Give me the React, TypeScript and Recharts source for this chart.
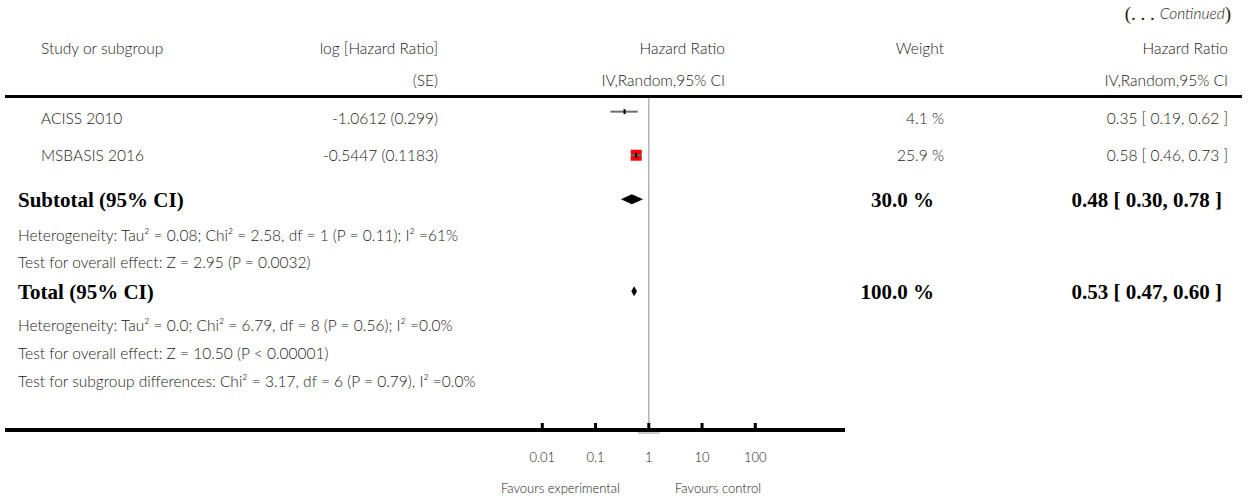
import React from 'react';
import { ComposedChart, Bar, XAxis, YAxis, ReferenceLine } from 'recharts';

// ---------- data ----------
const studyNames = ['ACISS 2010', 'MSBASIS 2016'];
const studyLogHR = ['-1.0612', '-0.5447'];
const studySE = ['0.299', '0.1183'];
const studyWeights = [4.1, 25.9];
const studyHR = [0.35, 0.58];
const studyLow = [0.19, 0.46];
const studyHigh = [0.62, 0.73];

const pooledNames = ['Subtotal (95% CI)', 'Total (95% CI)'];
const pooledWeights = [30.0, 100.0];
const pooledHR = [0.48, 0.53];
const pooledLow = [0.3, 0.47];
const pooledHigh = [0.78, 0.6];

const subtotalNotes = [
  'Heterogeneity: Tau² = 0.08; Chi² = 2.58, df = 1 (P = 0.11); I² =61%',
  'Test for overall effect: Z = 2.95 (P = 0.0032)',
];
const totalNotes = [
  'Heterogeneity: Tau² = 0.0; Chi² = 6.79, df = 8 (P = 0.56); I² =0.0%',
  'Test for overall effect: Z = 10.50 (P < 0.00001)',
  'Test for subgroup differences: Chi² = 3.17, df = 6 (P = 0.79), I² =0.0%',
];

const axisTicks = [0.01, 0.1, 1, 10, 100];
const axisTickLabels = ['0.01', '0.1', '1', '10', '100'];
const favoursLabels = ['Favours experimental', 'Favours control'];

const headerCols1 = ['Study or subgroup', 'log [Hazard Ratio]', 'Hazard Ratio', 'Weight', 'Hazard Ratio'];
const headerCols2 = ['(SE)', 'IV,Random,95% CI', 'IV,Random,95% CI'];

// ---------- layout (row positions in table-line units on the y scale) ----------
const studyMarkLines = [0.52, 2.09];
const pooledMarkLines = [3.68, 6.99];

const fmt1 = (v: number) => v.toFixed(1);
const fmt2 = (v: number) => v.toFixed(2);

const forestRows = [
  ...studyNames.map((n, i) => ({
    name: n,
    line: studyMarkLines[i],
    ci: [studyLow[i], studyHigh[i]],
    hr: studyHR[i],
    weight: studyWeights[i],
    pooled: false,
  })),
  ...pooledNames.map((n, i) => ({
    name: n,
    line: pooledMarkLines[i],
    ci: [pooledLow[i], pooledHigh[i]],
    hr: pooledHR[i],
    weight: pooledWeights[i],
    pooled: true,
  })),
];

const SANS = "Lato, 'Open Sans', 'DejaVu Sans', sans-serif";
const SERIF = "'Liberation Serif', 'DejaVu Serif', serif";
const TXT = '#1a1a1a';

const ForestShape = (props: any) => {
  const { x, y, width, height, payload } = props;
  if (payload == null || x == null) return null;
  const cy = y + height / 2;
  const lo = payload.ci[0];
  const hi = payload.ci[1];
  const t = (Math.log(payload.hr) - Math.log(lo)) / (Math.log(hi) - Math.log(lo));
  const cx = x + width * t;
  if (payload.pooled) {
    const h = 5;
    return (
      <polygon
        points={`${x},${cy} ${cx},${cy - h} ${x + width},${cy} ${cx},${cy + h}`}
        fill="#000"
      />
    );
  }
  const s = payload.weight * 0.425;
  return (
    <g>
      <rect x={cx - s / 2} y={cy - s / 2} width={s} height={s} fill="#ff0000" />
      <line x1={x} x2={x + width} y1={cy} y2={cy} stroke="#6e6e6e" strokeWidth={2} />
      <line x1={cx} x2={cx} y1={cy - 2.5} y2={cy + 2.5} stroke="#000" strokeWidth={2} />
    </g>
  );
};

const AxisTick = (props: any) => {
  const { x, y, payload, index } = props;
  return (
    <g>
      <rect x={x - 1.5} y={y - 7} width={3} height={7} fill="#000" />
      {payload.value === 1 && (
        <line x1={x - 11} x2={x + 11} y1={y + 3} y2={y + 3} stroke="#9a9a9a" strokeWidth={1} />
      )}
      <text
        x={x}
        y={y + 27}
        textAnchor="middle"
        dominantBaseline="central"
        fontFamily={SANS}
        fontWeight={300}
        fontSize={13}
        fill={TXT}
      >
        {axisTickLabels[index]}
      </text>
    </g>
  );
};

const T = (p: any) => (
  <text
    dominantBaseline="central"
    fontFamily={p.bold ? SERIF : SANS}
    fontWeight={p.bold ? 700 : 300}
    fontSize={p.size ?? (p.bold ? 21 : 15.5)}
    fill={p.bold ? '#000' : TXT}
    textAnchor={p.anchor ?? 'start'}
    x={p.x}
    y={p.y}
  >
    {p.children}
  </text>
);

export default function App() {
  const W = 1248;
  const H = 500;
  // text row positions
  const studyTextY = [118, 155];
  const pooledTextY = [200, 292];
  const subNoteY = [235, 262];
  const totNoteY = [325, 353, 381];
  return (
    <div style={{ position: 'absolute', left: 0, top: 0, width: W, height: H, background: '#fff' }}>
      <ComposedChart
        width={W}
        height={H}
        layout="vertical"
        data={forestRows}
        margin={{ top: 97, right: 403, bottom: 30, left: 5 }}
      >
        <XAxis
          type="number"
          scale="log"
          domain={[Math.pow(10, -12.09), Math.pow(10, 3.6845)]}
          ticks={axisTicks}
          interval={0}
          height={40}
          axisLine={{ stroke: '#000', strokeWidth: 4 }}
          tickLine={false}
          tickSize={0}
          tickMargin={0}
          tick={<AxisTick />}
          allowDataOverflow
        />
        <YAxis type="number" dataKey="line" domain={[0, 12]} hide />
        <ReferenceLine x={1} stroke="#b3b3b3" strokeWidth={1.5} ifOverflow="visible" />
        <Bar
          dataKey="ci"
          barSize={12}
          shape={<ForestShape />}
          isAnimationActive={false}
        />
      </ComposedChart>
      <svg
        width={W}
        height={H}
        style={{ position: 'absolute', left: 0, top: 0, pointerEvents: 'none' }}
      >
        <text x={1231} y={13} textAnchor="end" dominantBaseline="central" fill={TXT}>
          <tspan fontFamily={SERIF} fontSize={19}>(. . . </tspan>
          <tspan fontFamily={SANS} fontStyle="italic" fontWeight={300} fontSize={15.5}>Continued</tspan>
          <tspan fontFamily={SERIF} fontSize={19}>)</tspan>
        </text>
        <T x={41} y={48}>{headerCols1[0]}</T>
        <T x={438} y={48} anchor="end">{headerCols1[1]}</T>
        <T x={725} y={48} anchor="end">{headerCols1[2]}</T>
        <T x={944} y={48} anchor="end">{headerCols1[3]}</T>
        <T x={1228} y={48} anchor="end">{headerCols1[4]}</T>
        <T x={438} y={80} anchor="end">{headerCols2[0]}</T>
        <T x={725} y={80} anchor="end">{headerCols2[1]}</T>
        <T x={1228} y={80} anchor="end">{headerCols2[2]}</T>
        <line x1={5} x2={1242} y1={96.5} y2={96.5} stroke="#000" strokeWidth={3} />

        {studyNames.map((n, i) => (
          <g key={n}>
            <T x={41} y={studyTextY[i]}>{n}</T>
            <T x={438} y={studyTextY[i]} anchor="end">{`${studyLogHR[i]} (${studySE[i]})`}</T>
            <T x={944} y={studyTextY[i]} anchor="end">{`${fmt1(studyWeights[i])} %`}</T>
            <T x={1228} y={studyTextY[i]} anchor="end">
              {`${fmt2(studyHR[i])} [ ${fmt2(studyLow[i])}, ${fmt2(studyHigh[i])} ]`}
            </T>
          </g>
        ))}
        {pooledNames.map((n, i) => (
          <g key={n}>
            <T bold x={18} y={pooledTextY[i]}>{n}</T>
            <T bold x={934} y={pooledTextY[i]} anchor="end">{`${fmt1(pooledWeights[i])} %`}</T>
            <T bold x={1222} y={pooledTextY[i]} anchor="end">
              {`${fmt2(pooledHR[i])} [ ${fmt2(pooledLow[i])}, ${fmt2(pooledHigh[i])} ]`}
            </T>
          </g>
        ))}
        {subtotalNotes.map((s, i) => (
          <T key={s} x={18} y={subNoteY[i]}>{s}</T>
        ))}
        {totalNotes.map((s, i) => (
          <T key={s} x={18} y={totNoteY[i]}>{s}</T>
        ))}
        <T x={620} y={488} anchor="end" size={13}>{favoursLabels[0]}</T>
        <T x={675} y={488} size={13}>{favoursLabels[1]}</T>
      </svg>
    </div>
  );
}
